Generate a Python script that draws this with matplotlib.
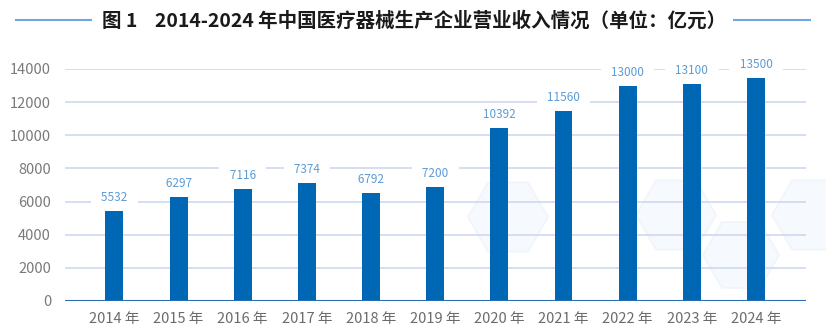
import numpy as np
import matplotlib.pyplot as plt
from matplotlib.lines import Line2D
from matplotlib.patches import RegularPolygon

plt.rcParams['font.family'] = ['Noto Sans CJK SC', 'DejaVu Sans']

# Data
years = ['2014 年', '2015 年', '2016 年', '2017 年', '2018 年', '2019 年',
         '2020 年', '2021 年', '2022 年', '2023 年', '2024 年']
# bar heights as drawn in the picture (亿元)
heights = [5430, 6280, 6760, 7120, 6520, 6880, 10440, 11470, 12980, 13100, 13460]
# value labels printed above the bars
labels = ['5532', '6297', '7116', '7374', '6792', '7200',
          '10392', '11560', '13000', '13100', '13500']
yticks = [0, 2000, 4000, 6000, 8000, 10000, 12000, 14000]

BAR = '#0067b4'
GRID = '#c9d6ee'

fig = plt.figure(figsize=(8.26, 3.33), dpi=100)

# faint hexagon decoration in the background (pixel coords)
bg = fig.add_axes([0, 0, 1, 1], zorder=-1)
bg.set_xlim(0, 826)
bg.set_ylim(333, 0)
bg.set_aspect('equal')
bg.axis('off')
for cx, cy, r in [(508, 217, 40), (676, 215, 40), (741, 255, 38), (812, 215, 40)]:
    bg.add_patch(RegularPolygon((cx, cy), 6, radius=r, orientation=np.pi / 6,
                                fc='#f6f9fd', ec='#f0f5fb', lw=1.2))

ax = fig.add_axes([0.0787, 0.0961, 0.8971, 0.6967])
ax.patch.set_alpha(0)

x = range(len(years))
ax.bar(x, heights, width=0.28, color=BAR, zorder=3)

# value labels, white box breaks the grid lines behind them
for i, (h, lab) in enumerate(zip(heights, labels)):
    ax.text(i, h + 800, '   ' + lab + '   ', ha='center', va='center', fontsize=8.5,
            color='#5b9bd5', zorder=2, clip_on=False,
            bbox=dict(boxstyle='square,pad=0.2', fc='white', ec='none'))

ax.set_xlim(-0.77, 10.78)
ax.set_ylim(0, 14000)
ax.set_yticks(yticks)
ax.set_xticks(list(x))
ax.set_xticklabels(years)
ax.tick_params(axis='both', length=0, labelsize=10.5)
ax.tick_params(axis='y', colors='#7a7a7a', pad=10)
ax.tick_params(axis='x', colors='#6b6b6b', pad=8)

for t in yticks[1:]:
    ax.axhline(t, color=GRID, lw=1.1, zorder=1)
ax.axhline(0, color='#2a6db5', lw=1.5, zorder=4)

for s in ax.spines.values():
    s.set_visible(False)

# title with the two rules on its sides
fig.text(0.501, 0.938, '图 1    2014-2024 年中国医疗器械生产企业营业收入情况（单位：亿元）',
         ha='center', va='center', fontsize=14, fontweight='bold', color='#1a1a1a')
fig.add_artist(Line2D([16 / 826, 91 / 826], [0.94, 0.94], color='#6fa8dc', lw=1.5))
fig.add_artist(Line2D([734 / 826, 810 / 826], [0.94, 0.94], color='#6fa8dc', lw=1.5))

plt.savefig('out.png', dpi=100)
